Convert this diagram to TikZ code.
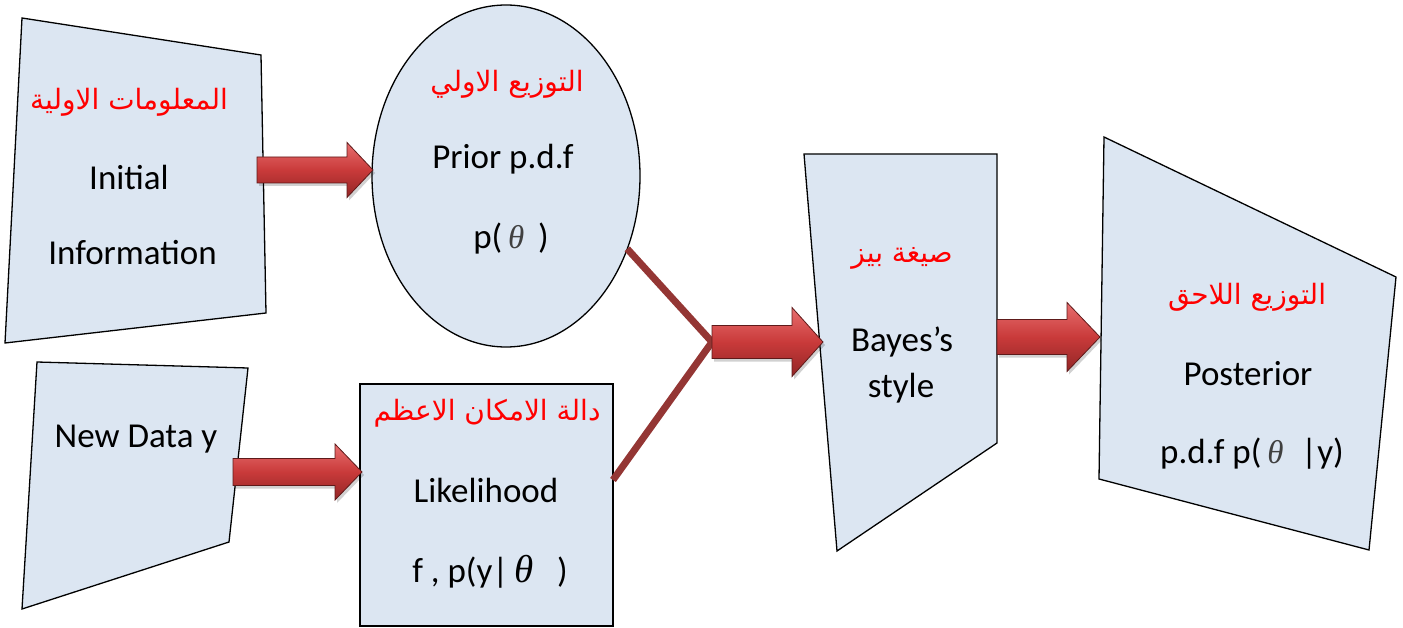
\documentclass[tikz,border=0pt]{standalone}
\usepackage{fontspec}
\setmainfont{Carlito}
\newfontfamily\arabicfont[Script=Arabic]{DejaVu Sans}
\newfontfamily\thetafont{Liberation Serif}
\TeXXeTstate=1
\usetikzlibrary{calc,shapes.geometric}
\definecolor{boxfill}{HTML}{DCE6F2}
\definecolor{linkred}{HTML}{943634}
\definecolor{arrowtop}{HTML}{E86F6F}
\definecolor{arrowmid}{HTML}{C93A3A}
\definecolor{arrowbot}{HTML}{922626}
\definecolor{arrowedge}{HTML}{5E1A1A}
\definecolor{thetagray}{HTML}{404040}
\tikzset{
  shapebox/.style={draw=black, line width=1.3pt, fill=boxfill, line join=miter},
  blockarrow/.style={draw=arrowedge, line width=0.8pt, top color=arrowtop, bottom color=arrowbot, middle color=arrowmid, line join=miter},
  arrowshadow/.style={fill=black, opacity=0.18},
  link/.style={draw=linkred, line width=7pt},
  lbl/.style={anchor=base, inner sep=0pt, font=\fontsize{35}{40}\selectfont},
  arlbl/.style={anchor=base, inner sep=0pt, text=red, font=\fontsize{28}{32}\selectfont\arabicfont},
}
\newcommand{\thsym}[1]{{\fontsize{#1}{#1}\selectfont\thetafont\itshape θ}}
% from, to, shaft half height, head half height, head length
\newcommand{\blockarr}[5]{%
  \path let \p1=(#1), \p2=(#2) in [arrowshadow]
    (\x1+2pt,\y2+#3pt-3pt) -- (\x2-#5pt+2pt,\y2+#3pt-3pt) -- (\x2-#5pt+2pt,\y2+#4pt-3pt) -- (\x2+2pt,\y2-3pt)
    -- (\x2-#5pt+2pt,\y2-#4pt-3pt) -- (\x2-#5pt+2pt,\y2-#3pt-3pt) -- (\x1+2pt,\y2-#3pt-3pt) -- cycle;
  \path let \p1=(#1), \p2=(#2) in [blockarrow]
    (\x1,\y2+#3pt) -- (\x2-#5pt,\y2+#3pt) -- (\x2-#5pt,\y2+#4pt) -- (\x2,\y2)
    -- (\x2-#5pt,\y2-#4pt) -- (\x2-#5pt,\y2-#3pt) -- (\x1,\y2-#3pt) -- cycle;
}
\begin{document}
\begin{tikzpicture}[x=1pt,y=-1pt]
\useasboundingbox (0,0) rectangle (1403,628);

% Initial information
\path[shapebox] (22,18) -- (261,55) -- (266,313) -- (5,343) -- cycle;
\node[arlbl] (initAr) at (129,110) {\beginR المعلومات الاولية\endR};
\node[lbl] (init1) at (129,190) {Initial};
\node[lbl] (init2) at (132.5,265) {Information};

% Prior
\node[ellipse, shapebox, minimum width=268pt, minimum height=342pt, inner sep=0pt, outer sep=0pt] (prior) at (506,176) {};
\node[arlbl] (priorAr) at (507,92) {\beginR التوزيع الاولي\endR};
\node[lbl] (prior1) at (503,169) {Prior p.d.f};
\node[lbl] (prior2) at (511,249) {p(\,{\color{thetagray}\thsym{33}}\, )};

% New data
\path[shapebox] (37,362) -- (248,368) -- (229,542) -- (22,609) -- cycle;
\node[lbl] (newdata) at (136,447) {New Data y};

% Likelihood
\node[rectangle, shapebox, minimum width=253pt, minimum height=242pt, inner sep=0pt, outer sep=0pt] (like) at (486.5,505) {};
\node[arlbl] (likeAr) at (487,420) {\beginR دالة الامكان الاعظم\endR};
\node[lbl] (like1) at (486,502) {Likelihood};
\node[lbl] (like2) at (490,582) {f , p(y|\,\thsym{39}\;\, )};

% Bayes
\path[shapebox] (804,154) -- (997,154) -- (997,443) -- (837,551) -- cycle;
\node[arlbl] (bayesAr) at (902,263) {\beginR صيغة بيز\endR};
\node[lbl] (bayes1) at (902,352) {Bayes’s};
\node[lbl] (bayes2) at (901,397) {style};

% Posterior
\path[shapebox] (1104,137) -- (1396,277) -- (1369,550) -- (1099,479) -- cycle;
\node[arlbl] (postAr) at (1247,305) {\beginR التوزيع اللاحق\endR};
\node[lbl] (post1) at (1248,385) {Posterior};
\node[lbl] (post2) at (1252,463) {p.d.f p(\,{\color{thetagray}\thsym{33}}\; |y)};

% connector points
\coordinate (initE) at (257,170);
\coordinate (priorW) at (373,170);
\coordinate (newE) at (233,472);
\coordinate (likeW) at (362,472);
\coordinate (join) at (712,342);
\coordinate (bayesW) at (823,342);
\coordinate (bayesE) at (997,337);
\coordinate (postW) at (1100,337);
\coordinate (likeE) at ($(like.north east)+(0,96)$);

% links to the junction
\draw[link] (prior.-31.7) -- (join);
\draw[link] (likeE) -- (join);

% block arrows
\blockarr{initE}{priorW}{13}{27.5}{26}
\blockarr{newE}{likeW}{13.5}{28}{27}
\blockarr{join}{bayesW}{16.5}{34.5}{31}
\blockarr{bayesE}{postW}{17.5}{34.5}{33}
\end{tikzpicture}
\end{document}
